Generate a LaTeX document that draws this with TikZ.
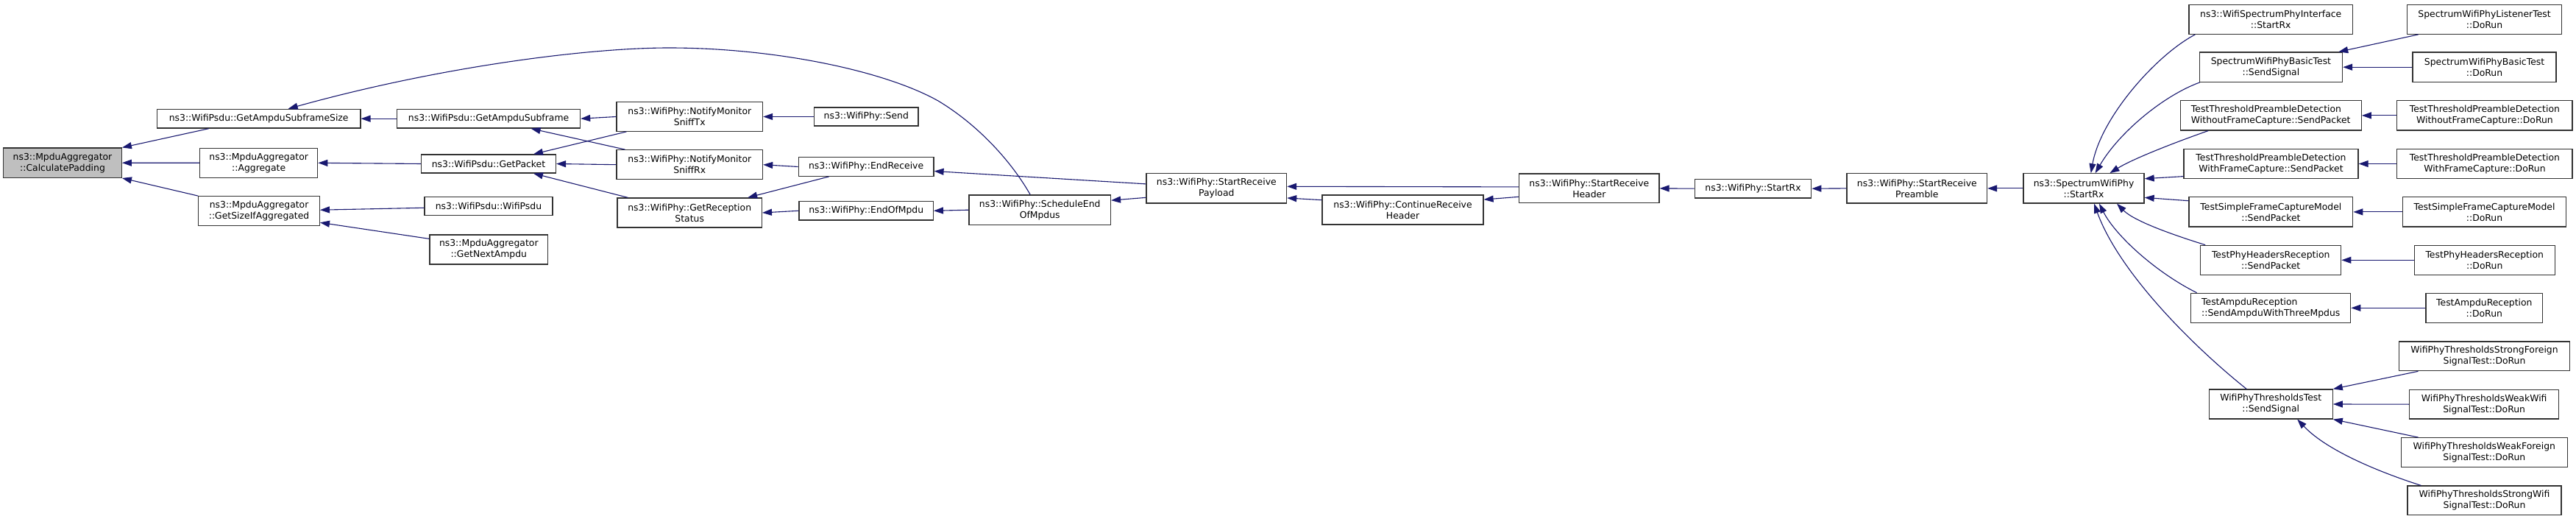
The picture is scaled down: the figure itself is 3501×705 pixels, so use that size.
\documentclass[tikz,border=0pt]{standalone}
\usepackage{fontspec}
\setmainfont{DejaVu Sans}
\usetikzlibrary{arrows.meta,calc}
\definecolor{edgecol}{RGB}{25,25,112}
\begin{document}
\begin{tikzpicture}[x=0.5pt,y=-0.5pt,
  nbox/.style={draw=black!80, line width=0.6pt, fill=white, inner sep=0pt, align=center, font=\fontsize{6.2}{7.5}\selectfont},
  rootbox/.style={nbox, fill=black!25},
  sz/.style 2 args={minimum width=#1*0.5pt, minimum height=#2*0.5pt},
  callarrow/.style={draw=edgecol, line width=0.55pt, {Triangle[length=6.5pt,width=4.5pt]}-},
]
\useasboundingbox[fill=white] (0,0) rectangle (3501,705);
% column 1
\node[rootbox,sz={160.7}{40.3}] (cp) at (85,221.2) {ns3::MpduAggregator\\::CalculatePadding};
% column 2
\node[nbox,sz={276.4}{25.7}] (gass) at (351.7,161.2) {ns3::WifiPsdu::GetAmpduSubframeSize};
\node[nbox,sz={160}{40}] (agg) at (351.7,221.3) {ns3::MpduAggregator\\::Aggregate};
\node[nbox,sz={164.6}{40}] (gsia) at (352.1,286.7) {ns3::MpduAggregator\\::GetSizeIfAggregated};
% column 3
\node[nbox,sz={249}{25.7}] (gas) at (664.1,161.2) {ns3::WifiPsdu::GetAmpduSubframe};
\node[nbox,sz={183}{25}] (gp) at (664,222.5) {ns3::WifiPsdu::GetPacket};
\node[nbox,sz={174}{25.4}] (wp) at (664,280) {ns3::WifiPsdu::WifiPsdu};
\node[nbox,sz={160.6}{40}] (gna) at (664.3,339) {ns3::MpduAggregator\\::GetNextAmpdu};
% column 4
\node[nbox,sz={198.6}{39.6}] (stx) at (937.3,158.5) {ns3::WifiPhy::NotifyMonitor\\SniffTx};
\node[nbox,sz={198.6}{40}] (srx) at (937.3,223.7) {ns3::WifiPhy::NotifyMonitor\\SniffRx};
\node[nbox,sz={196.4}{40}] (grs) at (937.2,289) {ns3::WifiPhy::GetReception\\Status};
% column 5
\node[nbox,sz={141.4}{25}] (send) at (1177.3,158.5) {ns3::WifiPhy::Send};
\node[nbox,sz={183.8}{25.6}] (er) at (1177.1,226.5) {ns3::WifiPhy::EndReceive};
\node[nbox,sz={182.3}{25.3}] (eom) at (1177.2,286.3) {ns3::WifiPhy::EndOfMpdu};
% middle chain
\node[nbox,sz={192.5}{40.3}] (seom) at (1413.2,285.2) {ns3::WifiPhy::ScheduleEnd\\OfMpdus};
\node[nbox,sz={190.6}{40.3}] (srp) at (1653.3,255.9) {ns3::WifiPhy::StartReceive\\Payload};
\node[nbox,sz={219}{40}] (crh) at (1906.5,285) {ns3::WifiPhy::ContinueReceive\\Header};
\node[nbox,sz={190.5}{39.7}] (srh) at (2159.8,255.9) {ns3::WifiPhy::StartReceive\\Header};
\node[nbox,sz={158.5}{25.7}] (wsrx) at (2382.5,256.2) {ns3::WifiPhy::StartRx};
\node[nbox,sz={190.6}{40.3}] (srpre) at (2605.3,255.9) {ns3::WifiPhy::StartReceive\\Preamble};
\node[nbox,sz={164.1}{40.3}] (swp) at (2832,255.9) {ns3::SpectrumWifiPhy\\::StartRx};
% column callers of SpectrumWifiPhy::StartRx
\node[nbox,sz={222.4}{40}] (wspi) at (3086.2,26.3) {ns3::WifiSpectrumPhyInterface\\::StartRx};
\node[nbox,sz={194.4}{40.3}] (sbs) at (3086.4,91.2) {SpectrumWifiPhyBasicTest\\::SendSignal};
\node[nbox,sz={246.1}{40.3},align=left] (wos) at (3086.2,156.9) {TestThresholdPreambleDetection\\WithoutFrameCapture::SendPacket};
\node[nbox,sz={237}{40.4}] (wfs) at (3086.5,222.5) {TestThresholdPreambleDetection\\WithFrameCapture::SendPacket};
\node[nbox,sz={222.7}{40.3}] (sfs) at (3086.4,287.9) {TestSimpleFrameCaptureModel\\::SendPacket};
\node[nbox,sz={191}{40}] (phs) at (3086.2,353.3) {TestPhyHeadersReception\\::SendPacket};
\node[nbox,sz={217}{40},align=left] (ams) at (3086.2,418.3) {TestAmpduReception\\::SendAmpduWithThreeMpdus};
\node[nbox,sz={168}{40}] (wts) at (3086.2,549) {WifiPhyThresholdsTest\\::SendSignal};
% last column
\node[nbox,sz={210.5}{40}] (lst) at (3376.5,26.3) {SpectrumWifiPhyListenerTest\\::DoRun};
\node[nbox,sz={195.1}{40.3}] (sbd) at (3376.5,91.2) {SpectrumWifiPhyBasicTest\\::DoRun};
\node[nbox,sz={238.1}{40.3}] (wod) at (3376.9,156.9) {TestThresholdPreambleDetection\\WithoutFrameCapture::DoRun};
\node[nbox,sz={238.1}{40.4}] (wfd) at (3376.9,222.5) {TestThresholdPreambleDetection\\WithFrameCapture::DoRun};
\node[nbox,sz={221.9}{40.3}] (sfd) at (3376.5,287.9) {TestSimpleFrameCaptureModel\\::DoRun};
\node[nbox,sz={190.9}{40}] (phd) at (3376.7,353.3) {TestPhyHeadersReception\\::DoRun};
\node[nbox,sz={158.8}{40}] (amd) at (3376.3,418.3) {TestAmpduReception\\::DoRun};
\node[nbox,sz={231.9}{39.7}] (sfo) at (3376.5,483.9) {WifiPhyThresholdsStrongForeign\\SignalTest::DoRun};
\node[nbox,sz={202.8}{39.7}] (wwi) at (3376.1,549.2) {WifiPhyThresholdsWeakWifi\\SignalTest::DoRun};
\node[nbox,sz={226.2}{39.6}] (wfo) at (3376.3,614.5) {WifiPhyThresholdsWeakForeign\\SignalTest::DoRun};
\node[nbox,sz={209}{39.7}] (swi) at (3376.5,679.9) {WifiPhyThresholdsStrongWifi\\SignalTest::DoRun};

% edges (arrow tip at the callee, first point)
\draw[callarrow] (cp.north east) -- ($(gass.south west)+(71,0)$);
\draw[callarrow] (cp.east) -- (agg.west);
\draw[callarrow] (cp.south east) -- (gsia.north west);
\draw[callarrow] (gass.east) -- (gas.west);
\draw[callarrow] ($(gass.north)+(40,0)$) .. controls (600,90) and (800,65) .. (909,65) .. controls (1050,65) and (1200,95) .. (1275,137) .. controls (1330,170) and (1375,220) .. ($(seom.north)+(-13,0)$);
\draw[callarrow] (agg.east) -- (gp.west);
\draw[callarrow] ($(gsia.east)+(0,-1.5)$) -- ($(wp.west)+(0,2.3)$);
\draw[callarrow] ($(gsia.south east)+(0,-5)$) -- ($(gna.north west)+(0,6)$);
\draw[callarrow] ($(gas.south)+(57.5,0)$) -- ($(srx.north west)+(12,0)$);
\draw[callarrow] (gas.east) -- (stx.west);
\draw[callarrow] ($(gp.north)+(61,0)$) -- ($(stx.south west)+(14,0)$);
\draw[callarrow] (gp.east) -- (srx.west);
\draw[callarrow] ($(gp.south)+(61,0)$) -- ($(grs.north west)+(15,0)$);
\draw[callarrow] (stx.east) -- (send.west);
\draw[callarrow] (srx.east) -- (er.west);
\draw[callarrow] ($(grs.north)+(79,0)$) -- ($(er.south west)+(42,0)$);
\draw[callarrow] (grs.east) -- (eom.west);
\draw[callarrow] ($(er.east)+(0,6)$) -- ($(srp.west)+(0,-6)$);
\draw[callarrow] (eom.east) -- (seom.west);
\draw[callarrow] ($(seom.north east)+(0,7.7)$) -- ($(srp.south west)+(0,-8.3)$);
\draw[callarrow] ($(srp.east)+(0,-2.6)$) -- ($(srh.west)+(0,-2)$);
\draw[callarrow] ($(srp.south east)+(0,-7.7)$) -- ($(crh.north west)+(0,7.3)$);
\draw[callarrow] ($(crh.north east)+(0,6.7)$) -- ($(srh.south west)+(0,-9)$);
\draw[callarrow] (srh.east) -- (wsrx.west);
\draw[callarrow] (wsrx.east) -- (srpre.west);
\draw[callarrow] (srpre.east) -- (swp.west);
\draw[callarrow] ($(swp.north)+(9.7,0)$) .. controls (2855,160) and (2930,75) .. ($(wspi.south west)+(9,0)$);
\draw[callarrow] ($(swp.north)+(15.6,0)$) .. controls (2880,180) and (2940,130) .. ($(sbs.south west)+(1,0)$);
\draw[callarrow] ($(swp.north)+(35.4,0)$) .. controls (2900,215) and (2960,192) .. ($(wos.south west)+(38.5,0)$);
\draw[callarrow] ($(swp.north east)+(0,7.6)$) -- ($(wfs.south west)+(0,-3.7)$);
\draw[callarrow] ($(swp.south east)+(0,-8.3)$) -- ($(sfs.north west)+(0,5.6)$);
\draw[callarrow] ($(swp.south)+(45,0)$) .. controls (2900,300) and (2950,318) .. ($(phs.north west)+(7,0)$);
\draw[callarrow] ($(swp.south)+(21,0)$) .. controls (2875,320) and (2930,370) .. ($(ams.north west)+(8.5,0)$);
\draw[callarrow] ($(swp.south)+(14,0)$) .. controls (2880,370) and (2980,470) .. ($(wts.north)+(-33,0)$);
\draw[callarrow] ($(sbs.north east)+(-6,0)$) -- ($(lst.south west)+(16,0)$);
\draw[callarrow] (sbs.east) -- (sbd.west);
\draw[callarrow] (wos.east) -- (wod.west);
\draw[callarrow] (wfs.east) -- (wfd.west);
\draw[callarrow] (sfs.east) -- (sfd.west);
\draw[callarrow] (phs.east) -- (phd.west);
\draw[callarrow] (ams.east) -- (amd.west);
\draw[callarrow] (wts.north east) -- ($(sfo.south west)+(26.5,0)$);
\draw[callarrow] (wts.east) -- (wwi.west);
\draw[callarrow] (wts.south east) -- ($(wfo.north west)+(24,0)$);
\draw[callarrow] ($(wts.south)+(36,0)$) .. controls (3165,615) and (3245,645) .. ($(swi.north west)+(19,0)$);
\end{tikzpicture}
\end{document}
